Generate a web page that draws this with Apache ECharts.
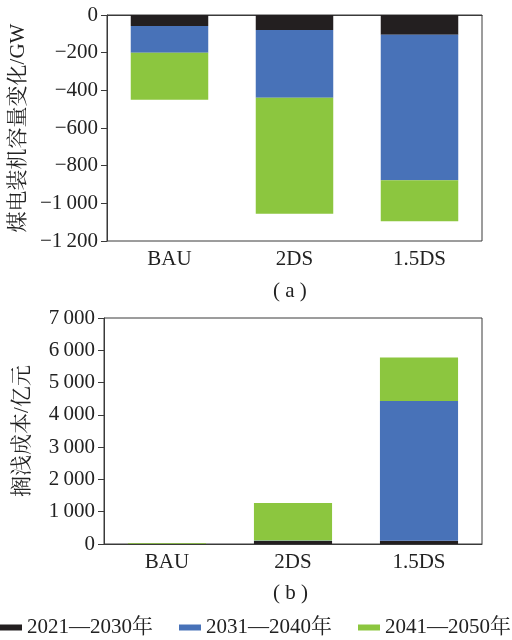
<!DOCTYPE html>
<html>
<head>
<meta charset="utf-8">
<script src="https://cdn.jsdelivr.net/npm/echarts@6/dist/echarts.min.js"></script>
<style>
  html, body { margin: 0; padding: 0; background: #fff; }
  #chart { width: 512px; height: 640px; }
</style>
</head>
<body>
<div id="chart"></div>
<script>
// Scenarios
const categories = ['BAU', '2DS', '1.5DS'];
const periods = ['2021\u20142030年', '2031\u20142040年', '2041\u20142050年'];

// (a) change in coal power capacity per decade, GW
const capacity2021_2030 = [-58, -80, -105];
const capacity2031_2040 = [-142, -360, -773];
const capacity2041_2050 = [-250, -615, -217];

// (b) stranded cost per decade, 100 million yuan
const cost2021_2030 = [5, 90, 100];
const cost2031_2040 = [5, 20, 4330];
const cost2041_2050 = [20, 1160, 1350];

// Axis ticks
const capacityTicks = { min: -1200, max: 0, interval: 200 };
const costTicks = { min: 0, max: 7000, interval: 1000 };

const colors = ['#231f20', '#4872b8', '#8cc63f'];
const serif = '"Liberation Serif", "Noto Serif CJK SC", "Noto Sans CJK SC", serif';
const axisColor = '#3a3a3a';
const fontSize = 21;

function fmt(v) {
  const neg = v < 0;
  const s = String(Math.abs(v));
  const t = s.length > 3 ? s.slice(0, s.length - 3) + '\u2009' + s.slice(-3) : s;
  return (neg ? '\u2212' : '') + t;
}

function xAxis(gridIndex) {
  return {
    type: 'category', gridIndex, data: categories,
    axisLine: { lineStyle: { color: axisColor, width: 1 } },
    axisTick: { inside: true, length: 6, alignWithLabel: true, lineStyle: { color: axisColor } },
    axisLabel: { color: '#222', fontFamily: serif, fontSize, margin: 8 }
  };
}

function yAxis(gridIndex, ticks, name, gap) {
  return {
    type: 'value', gridIndex,
    min: ticks.min, max: ticks.max, interval: ticks.interval,
    name, nameLocation: 'middle', nameGap: gap,
    nameTextStyle: { color: '#222', fontFamily: serif, fontSize },
    axisLine: { show: true, lineStyle: { color: axisColor } },
    axisTick: { show: true, length: 6, lineStyle: { color: axisColor } },
    splitLine: { show: false },
    axisLabel: { color: '#222', fontFamily: serif, fontSize, margin: 9, formatter: fmt }
  };
}

function bars(name, data, idx, stack, color) {
  return {
    name, type: 'bar', data, stack,
    xAxisIndex: idx, yAxisIndex: idx,
    barWidth: '62%',
    itemStyle: { color },
    emphasis: { disabled: true }
  };
}

const chart = echarts.init(document.getElementById('chart'), null, { renderer: 'canvas' });
chart.setOption({
  animation: false,
  grid: [
    { left: 104, right: 30, top: 15, height: 226, show: true, borderColor: axisColor, borderWidth: 1 },
    { left: 104, right: 30, top: 318, height: 226, show: true, borderColor: axisColor, borderWidth: 1 }
  ],
  xAxis: [xAxis(0), xAxis(1)],
  yAxis: [
    yAxis(0, capacityTicks, '煤电装机容量变化/GW', 78),
    yAxis(1, costTicks, '搁浅成本/亿元', 71)
  ],
  legend: {
    data: periods,
    bottom: 2, left: 0, width: 512,
    padding: 0,
    itemWidth: 22, itemHeight: 6, itemGap: 26,
    icon: 'rect',
    textStyle: { color: '#222', fontFamily: serif, fontSize }
  },
  graphic: [
    { type: 'text', left: 293 - 20, top: 281, style: { text: '( a )', font: fontSize + 'px ' + serif, fill: '#222' } },
    { type: 'text', left: 293 - 20, top: 583, style: { text: '( b )', font: fontSize + 'px ' + serif, fill: '#222' } }
  ],
  series: [
    bars(periods[0], capacity2021_2030, 0, 'cap', colors[0]),
    bars(periods[1], capacity2031_2040, 0, 'cap', colors[1]),
    bars(periods[2], capacity2041_2050, 0, 'cap', colors[2]),
    bars(periods[0], cost2021_2030, 1, 'cost', colors[0]),
    bars(periods[1], cost2031_2040, 1, 'cost', colors[1]),
    bars(periods[2], cost2041_2050, 1, 'cost', colors[2])
  ]
});
</script>
</body>
</html>
